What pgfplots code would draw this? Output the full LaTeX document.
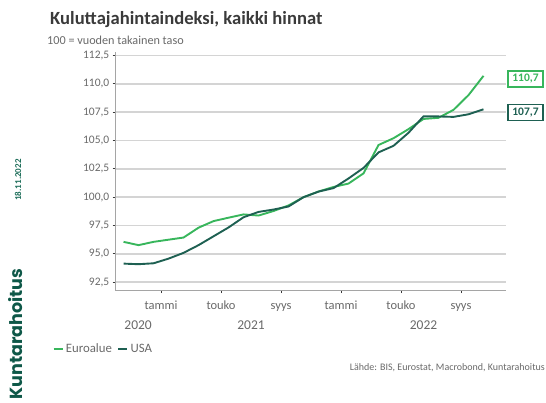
\documentclass[border=0pt]{standalone}
\usepackage{fontspec}
\setmainfont{Carlito}
\newfontfamily\logofont{Poppins}
\usepackage{pgfplots}
\pgfplotsset{compat=1.18}
\definecolor{eurogreen}{RGB}{56,182,92}
\definecolor{usateal}{RGB}{30,96,82}
\definecolor{logogreen}{RGB}{14,88,72}
\definecolor{dategreen}{RGB}{30,110,90}
\definecolor{gridgray}{RGB}{212,212,212}
\definecolor{axisgray}{RGB}{165,165,165}
\definecolor{textgray}{RGB}{105,105,105}
\definecolor{titlegray}{RGB}{58,58,58}
\newcommand{\fs}[1]{\fontsize{#1bp}{#1bp}\selectfont}
\begin{document}
\begin{tikzpicture}
\path[use as bounding box] (0,0) rectangle (546bp,-403bp);
\node[anchor=base west, inner sep=0pt, text=titlegray] at (50bp,-24bp) {\fs{18.6}\bfseries Kuluttajahintaindeksi, kaikki hinnat};
\node[anchor=base west, inner sep=0pt, text=textgray] at (47bp,-44bp) {\fs{12.2}100 = vuoden takainen taso};
\node[rotate=90, inner sep=0pt, text=dategreen] at (18bp,-180bp) {\fs{9}\bfseries 18.11.2022};
\node[rotate=90, inner sep=0pt, text=logogreen] at (16bp,-334bp) {\fs{17.5}\logofont\bfseries Kuntarahoitus};
\node[anchor=east, inner sep=0pt, text=textgray] at (545bp,-368bp) {\fs{10}Lähde: BIS, Eurostat, Macrobond, Kuntarahoitus};
\begin{axis}[
  at={(115bp,-290.7bp)}, anchor=south west,
  scale only axis, width=391bp, height=238.7bp,
  xmin=-3.07, xmax=23, ymin=91.75, ymax=112.8,
  clip=false,
  axis x line*=bottom, axis y line*=left,
  axis line style={draw=axisgray, line width=0.9bp},
  ytick={92.5,95,97.5,100,102.5,105,107.5,110,112.5},
  ymajorgrids, grid style={draw=gridgray, line width=1.6bp},
  xtick={0,4,8,12,16,20},
  xticklabels={tammi,touko,syys,tammi,touko,syys},
  tick align=outside, major tick length=2.5bp,
  tick style={draw=titlegray, line width=0.9bp},
  /pgf/number format/fixed, /pgf/number format/fixed zerofill,
  /pgf/number format/precision=1, /pgf/number format/use comma,
  /pgf/number format/assume math mode=true,
  y tick label style={font=\fs{11.5}, text=textgray, anchor=east, inner sep=0pt, xshift=-3bp},
  x tick label style={font=\fs{12.5}, text=textgray, anchor=north, inner sep=0pt, text height=9bp, text depth=3bp, yshift=-7bp},
  legend style={at={(-0.161,-0.244)}, anchor=west, draw=none, fill=none, font=\fs{12.8}, text=textgray, inner sep=0pt,
    /tikz/every even column/.append style={column sep=3bp}},
  legend columns=2,
  legend cell align=left,
  legend image code/.code={\draw[#1, line width=2.6bp] (0bp,0bp) -- (9bp,0bp);},
]
\addplot[eurogreen, line width=1.9bp] coordinates {
(-2.5,96.06) (-1.5,95.77) (-0.5,96.06) (0.5,96.25) (1.5,96.44) (2.5,97.31)
(3.5,97.89) (4.5,98.19) (5.5,98.48) (6.5,98.38) (7.5,98.78) (8.5,99.27)
(9.5,100.00) (10.5,100.50) (11.5,100.90) (12.5,101.20) (13.5,102.10) (14.5,104.60)
(15.5,105.20) (16.5,106.00) (17.5,106.90) (18.5,107.00) (19.5,107.70) (20.5,109.00)
(21.5,110.70)};
\addlegendentry{Euroalue}
\addplot[usateal, line width=1.9bp] coordinates {
(-2.5,94.14) (-1.5,94.09) (-0.5,94.17) (0.5,94.58) (1.5,95.09) (2.5,95.77)
(3.5,96.55) (4.5,97.33) (5.5,98.23) (6.5,98.70) (7.5,98.91) (8.5,99.18)
(9.5,100.00) (10.5,100.49) (11.5,100.80) (12.5,101.65) (13.5,102.58) (14.5,103.95)
(15.5,104.53) (16.5,105.68) (17.5,107.13) (18.5,107.12) (19.5,107.08) (20.5,107.31)
(21.5,107.75)};
\addlegendentry{USA}
% year labels
\node[anchor=base, inner sep=0pt, text=textgray, font=\fs{13.5}] at (axis cs:-1.53,91.75) [yshift=-38.3bp] {2020};
\node[anchor=base, inner sep=0pt, text=textgray, font=\fs{13.5}] at (axis cs:6,91.75) [yshift=-38.3bp] {2021};
\node[anchor=base, inner sep=0pt, text=textgray, font=\fs{13.5}] at (axis cs:17.5,91.75) [yshift=-38.3bp] {2022};
% value boxes
\fill[eurogreen] (axis cs:23,110.7) ++(-2bp,0) -- ++(4.5bp,3.5bp) -- ++(0,-7bp) -- cycle;
\node[draw=eurogreen, line width=1.4bp, fill=white, text=eurogreen, font=\fs{11.5}\bfseries, minimum width=35bp, minimum height=16bp, inner sep=1bp] at (axis cs:23,110.7) [xshift=19.5bp, yshift=-3bp] {110,7};
\fill[usateal] (axis cs:23,107.75) ++(-2bp,0) -- ++(4.5bp,3.5bp) -- ++(0,-7bp) -- cycle;
\node[draw=usateal, line width=1.4bp, fill=white, text=usateal, font=\fs{11.5}\bfseries, minimum width=35bp, minimum height=16bp, inner sep=1bp] at (axis cs:23,107.75) [xshift=19.5bp, yshift=-3bp] {107,7};
\end{axis}
\end{tikzpicture}
\end{document}
